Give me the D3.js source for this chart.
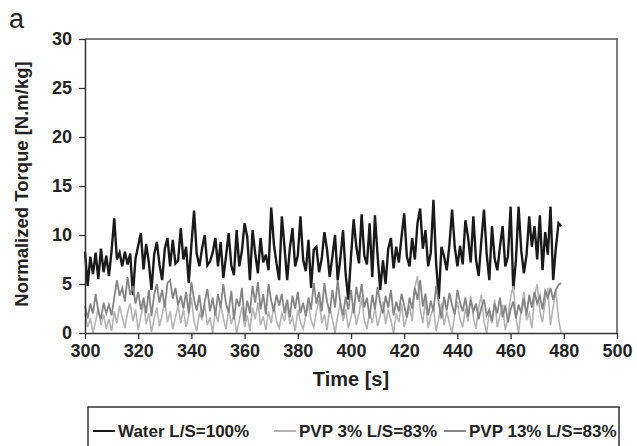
<!DOCTYPE html>
<html lang="en">
<head>
    <meta charset="UTF-8">
    <title>Normalized Torque vs Time</title>
    <script src="https://d3js.org/d3.v7.min.js"></script>
    <style>
        body { margin: 0; background: #fff; }
        text { font-family: "Liberation Sans", Arial, sans-serif; fill: #222; }
    </style>
</head>
<body>
    <svg id="chart" width="637" height="446"></svg>

    <script>
        // Data, one value per second starting at t = 300 s
        const tStart = 300;
        const seriesNames = ["Water L/S=100%", "PVP 3% L/S=83%", "PVP 13% L/S=83%"];
        const xTicks = [300, 320, 340, 360, 380, 400, 420, 440, 460, 480, 500];
        const yTicks = [0, 5, 10, 15, 20, 25, 30];

        const water = [
            8.3, 4.8, 7.8, 6.0, 8.2, 5.5, 8.6, 6.2, 7.9, 5.8,
            8.4, 11.7, 7.5, 8.2, 6.8, 8.3, 7.0, 8.1, 3.9, 7.6,
            8.9, 10.2, 6.5, 9.1, 7.2, 4.4, 8.0, 9.3, 7.0, 5.4,
            8.6, 9.7, 6.8, 9.5, 7.1, 7.4, 10.7, 7.5, 8.8, 5.1,
            9.0, 12.5, 8.1, 6.8, 8.6, 10.0, 6.9, 7.3, 8.2, 9.7,
            6.8, 9.3, 5.6, 7.8, 10.2, 6.9, 5.9, 10.5, 6.8, 8.4,
            11.2, 9.8, 5.4, 10.5, 8.1, 6.1, 9.7, 7.2, 8.0, 6.4,
            12.8, 9.1, 7.1, 5.4, 11.9, 8.8, 5.4, 8.6, 10.7, 6.8,
            7.9, 11.9, 7.5, 6.3, 9.5, 4.6, 8.5, 8.8, 6.2, 7.6,
            10.3, 8.5, 5.7, 7.8, 10.0, 5.4, 7.6, 10.5, 6.0, 3.4,
            7.8, 11.6, 8.8, 7.1, 12.1, 7.9, 7.0, 11.2, 5.7, 12.0,
            7.9, 4.4, 7.4, 5.0, 8.6, 9.7, 6.6, 8.8, 7.2, 9.8,
            12.2, 7.8, 6.8, 9.7, 7.5, 11.2, 12.7, 8.6, 10.5, 6.8,
            8.2, 13.6, 7.1, 3.5, 8.8, 7.8, 6.4, 9.0, 12.6, 8.8,
            6.8, 8.9, 7.0, 11.5, 9.8, 7.2, 11.9, 7.5, 5.8, 9.4,
            12.6, 8.1, 5.4, 10.9, 7.6, 6.4, 8.8, 10.9, 6.8, 7.8,
            12.9, 4.4, 7.4, 12.9, 8.4, 6.1, 8.0, 11.9, 8.8, 10.9,
            7.5, 12.0, 6.4, 10.3, 8.0, 12.9, 5.4, 8.6, 11.2, 10.9
        ];

        const pvp3 = [
            2.0, 0.6, 1.5, 0.0, 1.2, 2.6, 0.8, 1.9, 0.4, 1.4,
            0.2, 2.2, 1.0, 2.8, 1.6, 0.5, 2.1, 3.0, 1.2, 2.4,
            0.3, 1.7, 3.2, 0.9, 2.0, 0.1, 1.5, 2.6, 0.7, 1.8,
            3.4, 1.1, 2.2, 0.4, 1.6, 2.8, 1.0,
            2.4, 0.6, 1.8, 3.6, 1.2, 0.2, 2.0, 1.4, 2.9, 0.8,
            1.6, 0.0, 2.2, 1.1, 3.0, 1.5, 0.4, 2.4, 0.9, 1.9,
            0.0, 1.3, 2.7, 0.6, 1.8, 0.2, 2.6, 1.4, 3.1, 0.8,
            1.7, 0.3, 2.2, 1.0, 2.8, 1.2,
            0.5, 2.0, 1.2, 3.0, 0.9, 1.6, 0.2, 2.4, 1.1, 0.4,
            1.8, 2.9, 1.3, 0.6, 2.2, 3.4, 1.0, 1.9, 0.3, 2.6,
            1.4, 0.0, 1.7, 3.1, 1.2, 2.4, 0.5, 1.6, 2.9, 0.8,
            2.0, 3.6, 1.3, 0.4, 2.2, 1.0,
            2.6, 0.7, 1.8, 3.2, 0.9, 2.4, 1.3, 0.0, 2.0, 1.1,
            3.0, 0.6, 1.6, 2.8, 1.2, 4.6, 5.8, 2.4, 1.0, 3.4,
            0.5, 1.8, 2.6, 0.2, 1.5, 3.0, 0.8, 2.2, 1.0, 0.0,
            1.9, 3.2, 1.4, 0.6, 2.5, 1.2, 3.8,
            1.6, 0.4, 2.6, 3.9, 1.2, 0.0, 2.2, 1.0, 3.4, 0.6,
            1.8, 2.9, 0.3, 1.5, 3.6, 4.8, 1.6, 0.0, 2.4, 4.2,
            1.3, 2.0, 0.5, 3.8, 5.0, 2.2, 1.1, 3.3, 4.6, 0.8,
            2.7, 4.4, 1.5, 0.0
        ];

        const pvp13 = [
            2.8, 1.5, 3.0, 2.0, 4.0, 2.2, 1.4, 3.1, 2.0, 2.9,
            1.8, 3.6, 5.4, 3.8, 4.6, 3.2, 5.7, 3.9, 4.8, 3.0,
            4.2, 2.4, 3.6, 2.0, 4.4, 1.7, 3.9, 5.0, 3.1, 4.4,
            2.6, 5.1, 5.4, 3.5, 4.6, 2.8, 3.8,
            2.5, 4.2, 2.0, 5.2, 3.4, 2.3, 3.9, 1.6, 3.2, 4.5,
            2.2, 3.6, 1.8, 4.0, 2.6, 5.0, 3.0, 2.1, 4.3, 1.4,
            3.5, 2.7, 4.6, 1.2, 3.3, 2.0, 4.8, 3.1, 5.2, 2.4,
            4.0, 1.9, 5.0, 3.3, 2.2, 3.9,
            2.8, 4.0, 2.0, 3.4, 1.6, 3.8, 2.5, 4.2, 2.0, 3.1,
            1.7, 3.6, 2.4, 5.1, 3.0, 4.2, 2.2, 5.1, 3.2, 2.0,
            4.4, 2.6, 5.4, 3.0, 1.8, 3.7, 2.4, 4.4, 2.0, 4.7,
            3.2, 5.0, 2.6, 3.6, 1.5, 3.9,
            2.4, 4.7, 3.0, 2.0, 3.8, 2.6, 4.4, 1.8, 3.2, 2.2,
            4.0, 2.8, 1.6, 3.6, 2.5, 4.6, 3.4, 5.4, 2.7, 4.0,
            1.8, 3.3, 2.2, 4.8, 3.0, 1.5, 3.7, 2.3, 4.1, 2.8,
            1.9, 4.4, 3.1, 2.2, 3.6, 1.7, 3.4,
            2.2, 3.0, 1.4, 2.6, 3.4, 1.8, 2.4, 1.2, 3.0, 2.0,
            3.6, 1.6, 2.8, 1.1, 2.4, 3.2, 1.5, 2.9, 2.0, 3.5,
            1.8, 3.9, 2.6, 4.2, 3.0, 3.8, 2.4, 4.3, 3.6, 4.6,
            3.4, 4.4, 4.9, 5.1
        ];

        const seriesColors = ["#1a1a1a", "#b4b4b4", "#858585"];
        const seriesWidths = [2.4, 1.6, 1.8];

        const svg = d3.select("#chart");
        const x = d3.scaleLinear().domain([300, 500]).range([85, 617]);
        const y = d3.scaleLinear().domain([0, 30]).range([333, 39]);

        svg.append("rect").attr("width", 637).attr("height", 446).attr("fill", "#fff");

        // series (drawn in legend order, last on top)
        const line = d3.line()
            .x((d, i) => x(tStart + i))
            .y(d => y(d));

        [water, pvp3, pvp13].forEach((vals, k) => {
            svg.append("path")
                .datum(vals)
                .attr("d", line)
                .attr("fill", "none")
                .attr("stroke", seriesColors[k])
                .attr("stroke-width", seriesWidths[k])
                .attr("stroke-linejoin", "miter");
        });

        // frame top + right
        svg.append("path")
            .attr("d", `M${x(300)},${y(30)}H${x(500)}V${y(0)}`)
            .attr("fill", "none")
            .attr("stroke", "#555")
            .attr("stroke-width", 1.5);

        // axes
        const yAxis = svg.append("g")
            .attr("transform", `translate(${x(300)},0)`)
            .call(d3.axisLeft(y).tickValues(yTicks).tickSize(6).tickSizeOuter(0).tickPadding(7));
        const xAxis = svg.append("g")
            .attr("transform", `translate(0,${y(0)})`)
            .call(d3.axisBottom(x).tickValues(xTicks).tickSize(6).tickSizeOuter(0).tickPadding(5));

        [yAxis, xAxis].forEach(g => {
            g.select(".domain").attr("stroke", "#333").attr("stroke-width", 1.5);
            g.selectAll(".tick line").attr("stroke", "#333").attr("stroke-width", 1.3);
            g.selectAll("text")
                .style("font-size", "18px")
                .style("font-weight", "bold")
                .attr("fill", "#222");
        });

        // axis titles
        svg.append("text")
            .attr("transform", "rotate(-90)")
            .attr("x", -184)
            .attr("y", 28)
            .attr("text-anchor", "middle")
            .style("font-size", "18.5px")
            .style("font-weight", "bold")
            .text("Normalized Torque [N.m/kg]");

        svg.append("text")
            .attr("x", x(400))
            .attr("y", 386)
            .attr("text-anchor", "middle")
            .style("font-size", "20px")
            .style("font-weight", "bold")
            .text("Time [s]");

        // panel letter
        svg.append("text")
            .attr("x", 9)
            .attr("y", 28)
            .style("font-size", "27px")
            .text("a");

        // legend
        svg.append("rect")
            .attr("x", 88).attr("y", 407)
            .attr("width", 531).attr("height", 70)
            .attr("fill", "none")
            .attr("stroke", "#333")
            .attr("stroke-width", 1.5);

        const legendX = [93, 274, 444];
        const legend = svg.append("g").selectAll("g")
            .data(seriesNames)
            .join("g")
            .attr("transform", (d, i) => `translate(${legendX[i]},431)`);
        legend.append("line")
            .attr("x1", 0).attr("x2", 22)
            .attr("stroke", (d, i) => seriesColors[i])
            .attr("stroke-width", 2);
        legend.append("text")
            .attr("x", 25)
            .attr("dy", "0.36em")
            .style("font-size", "17px")
            .style("font-weight", "bold")
            .text(d => d);
    </script>
</body>
</html>
